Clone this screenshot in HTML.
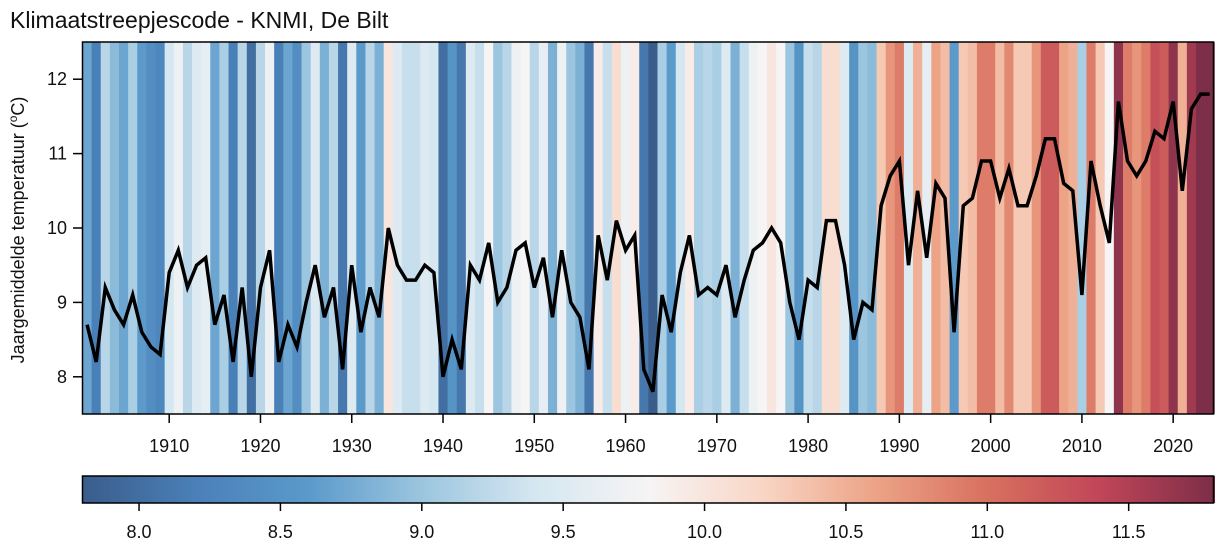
<!DOCTYPE html>
<html><head><meta charset="utf-8">
<style>
html,body{margin:0;padding:0;background:#fff;}
svg{display:block;font-family:"Liberation Sans",sans-serif;}
</style></head>
<body>
<svg id="s" width="1226" height="548" xmlns="http://www.w3.org/2000/svg">
<text x="10" y="28" font-size="23" fill="#111">Klimaatstreepjescode - KNMI, De Bilt</text>
<g id="stripes"></g>
<polyline id="line" fill="none" stroke="#000" stroke-width="3.5" stroke-linejoin="miter"/>
<rect x="82.5" y="42" width="1131" height="372" fill="none" stroke="#000" stroke-width="1.5"/>
<g id="axes" font-size="18" fill="#111"></g>
<text transform="translate(24,230) rotate(-90)" text-anchor="middle" font-size="18" fill="#111">Jaargemiddelde temperatuur (<tspan font-size="12" dy="-7">o</tspan><tspan dy="7">C)</tspan></text>
<g id="cbar"></g>
<rect x="82.5" y="476" width="1131" height="27" fill="none" stroke="#000" stroke-width="1.5"/>
</svg>
<script>
const T=[8.7,8.2,9.2,8.9,8.7,9.1,8.6,8.4,8.3,9.4,9.7,9.2,9.5,9.6,8.7,9.1,8.2,9.2,8.0,9.2,9.7,8.2,8.7,8.4,9.0,9.5,8.8,9.2,8.1,9.5,8.6,9.2,8.8,10.0,9.5,9.3,9.3,9.5,9.4,8.0,8.5,8.1,9.5,9.3,9.8,9.0,9.2,9.7,9.8,9.2,9.6,8.8,9.7,9.0,8.8,8.1,9.9,9.3,10.1,9.7,9.9,8.1,7.8,9.1,8.6,9.4,9.9,9.1,9.2,9.1,9.5,8.8,9.3,9.7,9.8,10.0,9.8,9.0,8.5,9.3,9.2,10.1,10.1,9.5,8.5,9.0,8.9,10.3,10.7,10.9,9.5,10.5,9.6,10.6,10.4,8.6,10.3,10.4,10.9,10.9,10.4,10.8,10.3,10.3,10.7,11.2,11.2,10.6,10.5,9.1,10.9,10.3,9.8,11.7,10.9,10.7,10.9,11.3,11.2,11.7,10.5,11.6,11.8,11.8];
const stops=["#3a5d8c","#4a80b8","#5b9acb","#9cc6df","#d5e7f1","#f6f4f4","#f9d6c5","#eca386","#d8705f","#c04558","#7d2e48"];
function hx(h){return [1,3,5].map(i=>parseInt(h.substr(i,2),16));}
const S=stops.map(hx);
function cmap(v){let t=(v-7.8)/4.0;t=Math.max(0,Math.min(1,t))*10;let i=Math.min(9,Math.floor(t)),f=t-i;
const c=S[i].map((a,k)=>Math.round(a+(S[i+1][k]-a)*f));return `rgb(${c})`;}
const NS="http://www.w3.org/2000/svg";
function el(p,tag,at,txt){const e=document.createElementNS(NS,tag);for(const k in at)e.setAttribute(k,at[k]);if(txt!=null)e.textContent=txt;p.appendChild(e);return e;}
const X=y=>82.5+(y-1900.5)*9.127, Y=v=>42+(12.5-v)*74.4;
const st=document.getElementById('stripes');
T.forEach((v,i)=>{const yr=1901+i;el(st,'rect',{x:X(yr-0.5),y:42,width:9.6,height:372,fill:cmap(v)});});
document.getElementById('line').setAttribute('points',T.map((v,i)=>X(1901+i).toFixed(1)+','+Y(v).toFixed(1)).join(' '));
const ax=document.getElementById('axes');
for(let yr=1910;yr<=2020;yr+=10){const x=X(yr);el(ax,'line',{x1:x,x2:x,y1:414,y2:423,stroke:'#000','stroke-width':1.5});el(ax,'text',{x:x,y:452,'text-anchor':'middle'},yr);}
for(let v=8;v<=12;v++){const y=Y(v);el(ax,'line',{x1:73,x2:82,y1:y,y2:y,stroke:'#000','stroke-width':1.5});el(ax,'text',{x:67,y:y+6,'text-anchor':'end'},v);}
const cb=document.getElementById('cbar');
for(let i=0;i<1131;i+=2){el(cb,'rect',{x:82.5+i,y:476,width:2.5,height:27,fill:cmap(7.8+4*i/1131)});}
[8.0,8.5,9.0,9.5,10.0,10.5,11.0,11.5].forEach(v=>{const x=82.5+(v-7.8)*282.75;el(cb,'line',{x1:x,x2:x,y1:503,y2:511,stroke:'#000','stroke-width':1.5});el(cb,'text',{x:x,y:538,'text-anchor':'middle','font-size':18,fill:'#111'},v.toFixed(1));});
</script>
</body></html>
